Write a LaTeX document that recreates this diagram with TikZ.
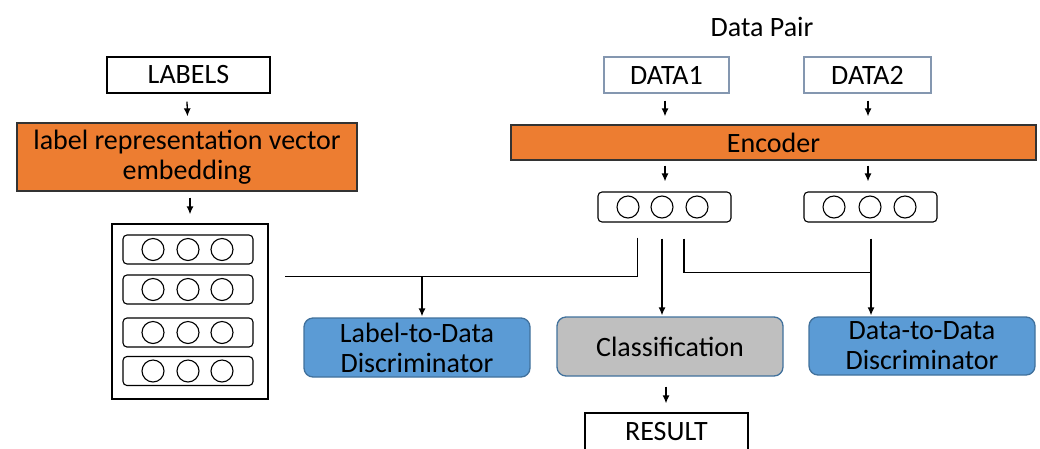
\documentclass[tikz,border=0pt]{standalone}
\usepackage{fontspec}
\setmainfont{Carlito}
\usetikzlibrary{arrows.meta,calc}

\definecolor{encorange}{HTML}{ED7D31}
\definecolor{discblue}{HTML}{5B9BD5}
\definecolor{discedge}{HTML}{41719C}
\definecolor{clsgray}{HTML}{BFBFBF}
\definecolor{dataedge}{HTML}{8497B0}

\tikzset{
  every node/.style={font=\fontsize{28}{30}\selectfont, inner sep=0pt, align=center},
  plainbox/.style={draw=black, line width=1.3pt, fill=white},
  databox/.style={draw=dataedge, line width=1.3pt, fill=white},
  orangebox/.style={draw=black!80, line width=1.3pt, fill=encorange},
  vecbox/.style={draw=black, line width=1.1pt, rounded corners=4pt, fill=white},
  unit/.style={circle, draw=black, line width=1.1pt, minimum size=22pt},
  discbox/.style={draw=discedge, line width=1.3pt, rounded corners=9pt, fill=discblue},
  clsbox/.style={draw=discedge, line width=1.3pt, rounded corners=9pt, fill=clsgray},
  link/.style={draw=black, line width=1.3pt},
  flow/.style={link, -{Latex[length=8pt,width=7pt]}},
}

\begin{document}
\begin{tikzpicture}[x=1pt, y=-1pt]
\useasboundingbox (0,0) rectangle (1040,448);
\clip (0,0) rectangle (1040,448);

% ---------- label branch ----------
\node[plainbox, minimum width=163pt, minimum height=36pt] (labels) at (188.5,75) {LABELS};
\node[orangebox, minimum width=340pt, minimum height=68pt] (emb) at (187,157)
  {label representation vector\\embedding};
\node[plainbox, minimum width=156pt, minimum height=175pt] (mat) at (190,311.5) {};

% four label vectors inside the matrix
\foreach \i/\yy in {1/249.5, 2/289.5, 3/332.5, 4/371} {
  \node[vecbox, minimum width=130pt, minimum height=29pt] (row\i) at (188,\yy) {};
  \foreach \j/\xx in {a/153, b/188, c/222}
    \node[unit] (row\i\j) at (\xx,\yy) {};
}

% ---------- data branch ----------
\node (pair) at (762,27) {Data Pair};
\node[databox, minimum width=125pt, minimum height=36pt] (data1) at (666.5,75) {DATA1};
\node[databox, minimum width=127pt, minimum height=36pt] (data2) at (867.5,75) {DATA2};
\node[orangebox, minimum width=525pt, minimum height=35pt] (enc) at (773.5,142.5) {Encoder};

\node[vecbox, minimum width=133pt, minimum height=30pt] (vec1) at (664.5,207) {};
\foreach \j/\xx in {a/628, b/662, c/697}
  \node[unit] (vec1\j) at (\xx,207) {};
\node[vecbox, minimum width=133pt, minimum height=30pt] (vec2) at (870.5,207) {};
\foreach \j/\xx in {a/834, b/870, c/905}
  \node[unit] (vec2\j) at (\xx,207) {};

% ---------- heads ----------
\node[discbox, minimum width=226pt, minimum height=59pt] (l2d) at (417,347.5) {Label-to-Data\\Discriminator};
\node[clsbox, minimum width=226pt, minimum height=59pt] (cls) at (670,346.5) {Classification};
\node[discbox, minimum width=226pt, minimum height=58pt] (d2d) at (922,346) {Data-to-Data\\Discriminator};
\node[plainbox, minimum width=163pt, minimum height=46pt] (result) at (666.5,436) {};
\node (resulttext) at (666.5,432) {RESULT};

% ---------- connectors ----------
\draw[flow] ($(labels.south)+(-1.5,8)$) -- ($(emb.north)+(0.5,-6)$);
\draw[flow] ($(emb.south)+(3,6)$) -- ($(mat.north)+(0,-9)$);

\draw[flow] ($(data1.south)+(-1.5,7)$) -- ($(data1.south |- enc.north)+(-1.5,-8)$);
\draw[flow] ($(data2.south)+(0.5,7)$) -- ($(data2.south |- enc.north)+(0.5,-8)$);
\draw[flow] ($(vec1.north |- enc.south)+(0.5,5)$) -- ($(vec1.north)+(0.5,-10)$);
\draw[flow] ($(vec2.north |- enc.south)+(-2.5,5)$) -- ($(vec2.north)+(-2.5,-10)$);

% label/data bus feeding the label-to-data discriminator
\coordinate (busL) at ($(mat.north east)+(16,53)$);
\coordinate (l2dtap) at ($(l2d.north)+(5,-41)$);
\draw[link] ($(vec1.south west)+(40,15)$) |- (busL);
\draw[flow] (l2dtap) -- ($(l2d.north)+(5,-1)$);

% data 1 to classification
\draw[flow] ($(vec1.south)+(-2.5,16)$) -- ($(cls.north)+(-8,-1)$);

% data pair bus feeding the data-to-data discriminator
\coordinate (busR) at ($(vec2.south)+(0.5,50)$);
\draw[link] ($(vec1.south)+(19.5,16)$) |- (busR);
\draw[flow] ($(vec2.south)+(0.5,16)$) -- ($(d2d.north)+(-51,-1)$);

\draw[flow] ($(cls.south)+(-4,10)$) -- ($(result.north)+(-0.5,-9)$);
\end{tikzpicture}
\end{document}
